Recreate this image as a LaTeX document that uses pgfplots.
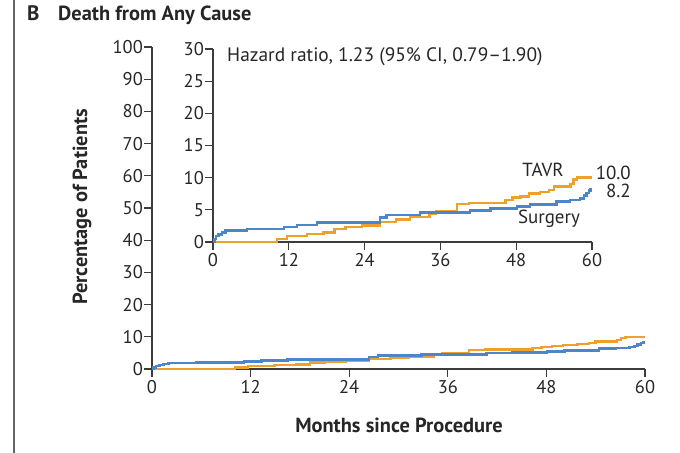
\documentclass[border=0pt]{standalone}
\usepackage{pgfplots}
\pgfplotsset{compat=1.18}
\usepackage{pgfplotstable}
\usepackage{fontspec}
\setmainfont{PT Sans}
\definecolor{tavr}{RGB}{238,160,45}
\definecolor{surg}{RGB}{76,134,202}
\definecolor{axgray}{RGB}{60,60,60}
\pgfplotstableread{
x y
0 0
10.1 0.5
11.7 0.9
14.9 1.25
17.5 1.45
19.2 2.0
21.0 2.3
23.6 2.6
26.4 3.1
29.0 3.5
31.2 3.9
34.3 4.4
35.3 4.8
38.6 5.9
40.5 6.1
46.3 6.5
47.4 6.9
48.7 7.1
50.0 7.5
51.8 7.8
53.2 8.1
54.0 8.6
56.6 9.0
57.1 9.7
57.6 10.0
60 10.0
}\tavrdata
\pgfplotstableread{
x y
0 0
0.2 0.5
0.5 0.9
0.9 1.2
1.4 1.5
2.0 1.8
5.4 2.05
11.2 2.35
13.3 2.65
16.5 3.0
26.4 3.8
27.5 4.2
32.8 4.55
40.7 4.9
43.9 5.2
48.1 5.5
50.2 5.8
54.4 6.3
56.5 6.5
58.1 6.8
58.7 7.2
59.1 7.6
59.5 8.0
59.8 8.2
60 8.2
}\surgdata
\pgfplotsset{
  kmstyle/.style={
    scale only axis,
    axis x line*=bottom, axis y line*=left,
    axis line style={line width=1.2bp, color=axgray},
    tick style={line width=1.2bp, color=axgray},
    tick align=outside,
    major tick length=8bp,
    xmin=0, xmax=60,
    xtick={0,12,24,36,48,60},
    ticklabel style={font=\fontsize{18.5}{20}\selectfont, text=black!85},
    yticklabel style={inner xsep=1bp},
    /pgf/number format/assume math mode=true,
    clip=false,
    anchor=south west,
  },
}
\begin{document}
\begin{tikzpicture}
\useasboundingbox (0bp,0bp) rectangle (680bp,453bp);
\fill[white] (0bp,0bp) rectangle (680bp,453bp);
\draw[line width=1.6bp, black!60] (14bp,0bp) -- (14bp,453bp);
\node[anchor=base west, inner sep=0pt, font=\fontsize{21}{24}\selectfont\bfseries, text=black!85] at (27bp,432bp) {B};
\node[anchor=base west, inner sep=0pt, font=\fontsize{20.5}{23}\selectfont\bfseries, text=black!85] at (58bp,432bp) {Death from Any Cause};
% main axis
\begin{axis}[kmstyle,
  at={(152bp,84bp)}, width=493bp, height=322bp,
  ymin=0, ymax=100, ytick={0,10,...,100},
]
\addplot[const plot, tavr, line width=2.5bp] table[x=x,y=y] {\tavrdata};
\addplot[const plot, surg, line width=2.5bp] table[x=x,y=y] {\surgdata};
\end{axis}
% inset
\begin{axis}[kmstyle,
  at={(213bp,211bp)}, width=379bp, height=193bp,
  ymin=0, ymax=30, ytick={0,5,...,30},
]
\addplot[const plot, tavr, line width=2.5bp] table[x=x,y=y] {\tavrdata};
\addplot[const plot, surg, line width=2.5bp] table[x=x,y=y] {\surgdata};
\end{axis}
\node[rotate=90, font=\fontsize{20.5}{22}\selectfont\bfseries, text=black!85] at (82bp,246bp) {Percentage of Patients};
\node[font=\fontsize{20.5}{22}\selectfont\bfseries, text=black!85] at (399bp,28bp) {Months since Procedure};
\node[anchor=west, inner sep=0pt, font=\fontsize{19.5}{22}\selectfont, text=black!85] at (227bp,396bp) {Hazard ratio, 1.23 (95\% CI, 0.79–1.90)};
\node[font=\fontsize{19}{22}\selectfont, text=black!85] at (543bp,283bp) {TAVR};
\node[font=\fontsize{19}{22}\selectfont, text=black!85] at (549bp,234bp) {Surgery};
\node[anchor=east, inner sep=0pt, font=\fontsize{19}{22}\selectfont, text=black!85] at (631bp,280bp) {10.0};
\node[anchor=east, inner sep=0pt, font=\fontsize{19}{22}\selectfont, text=black!85] at (631bp,262bp) {8.2};
\end{tikzpicture}
\end{document}
